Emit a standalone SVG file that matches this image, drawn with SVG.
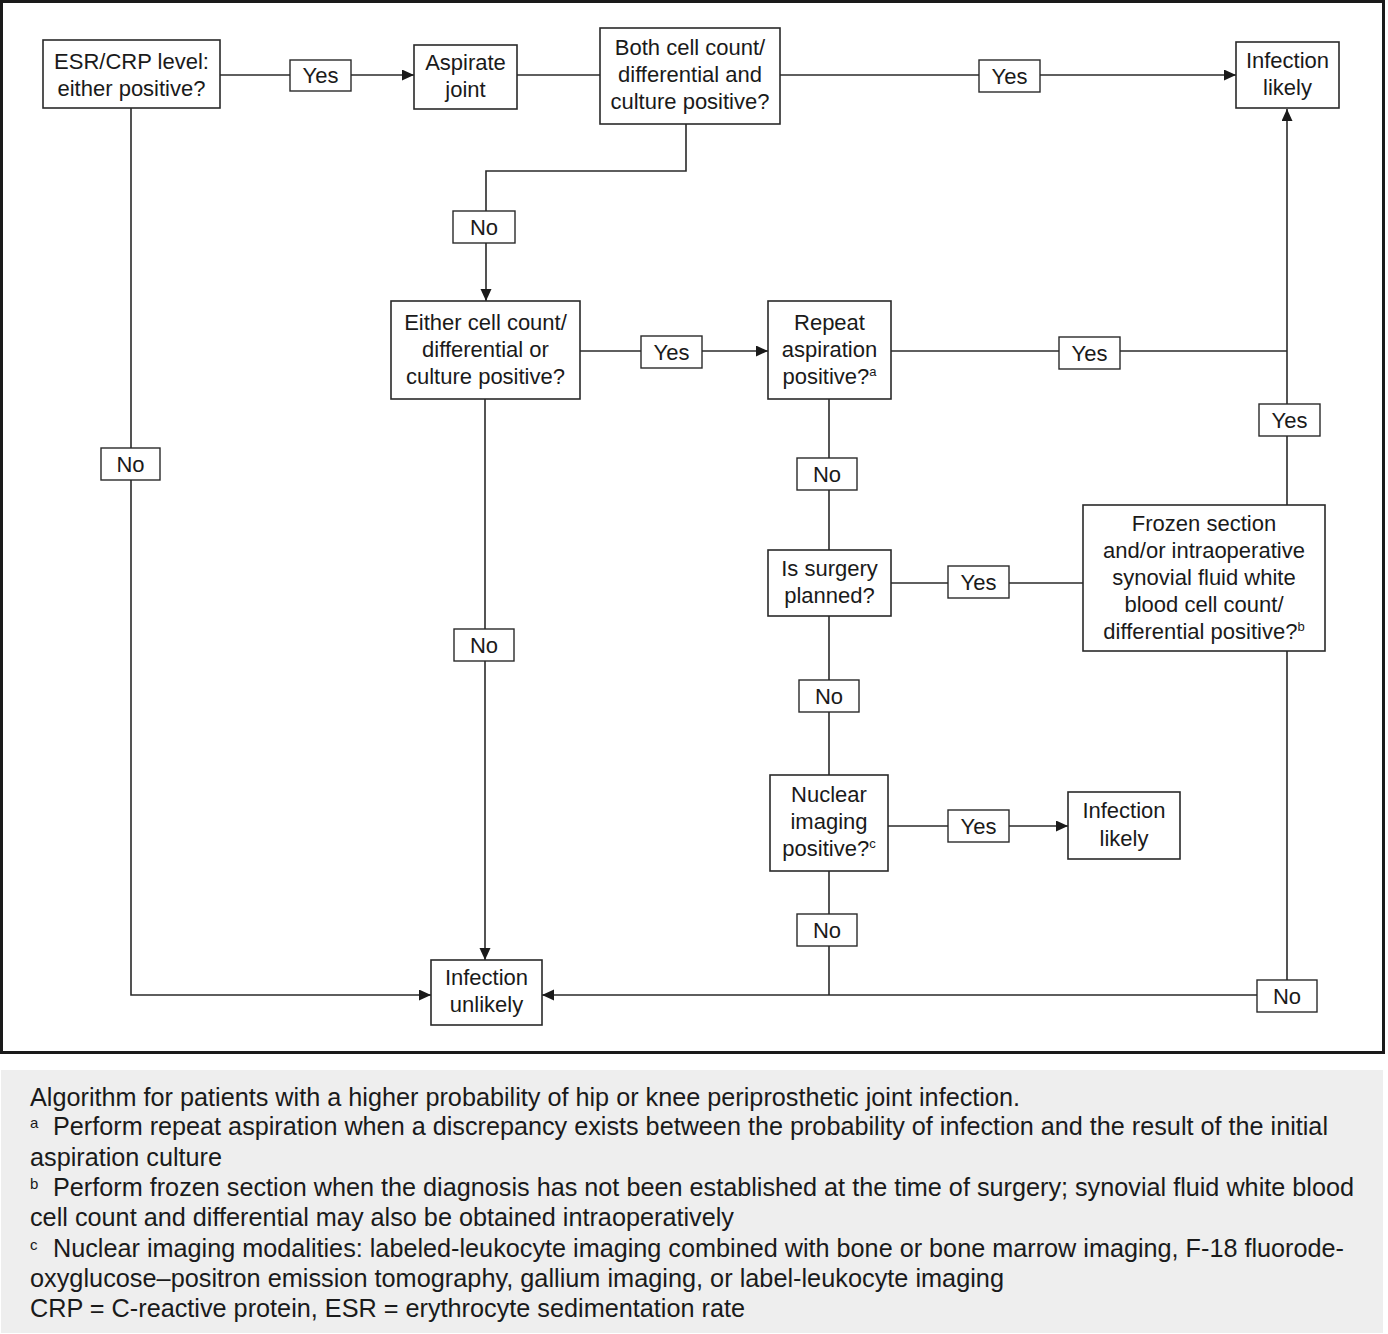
<svg xmlns="http://www.w3.org/2000/svg" width="1388" height="1334" viewBox="0 0 1388 1334">
<defs>
<marker id="arr" markerUnits="userSpaceOnUse" markerWidth="13" markerHeight="12" refX="12" refY="5.5" orient="auto">
<path d="M0,0 L12,5.5 L0,11 z" fill="#1a1a1a"/>
</marker>
<style>
.box{fill:#fff;stroke:#2a2a2a;stroke-width:1.6}
.lbl{fill:#fff;stroke:#2a2a2a;stroke-width:1.4}
.t{font-family:"Liberation Sans",Arial,sans-serif;font-size:22px;fill:#1a1a1a;text-anchor:middle}
.c{font-family:"Liberation Sans",Arial,sans-serif;font-size:25px;fill:#1a1a1a}
.sup{font-size:13px}
.csup{font-family:"Liberation Sans",Arial,sans-serif;font-size:15px;fill:#1a1a1a}
.ln{fill:none;stroke:#2a2a2a;stroke-width:1.6}
</style>
</defs>
<rect x="0" y="0" width="1388" height="1334" fill="#fff"/>
<rect x="1.5" y="1.5" width="1382" height="1051" fill="#fff" stroke="#1a1a1a" stroke-width="3"/>

<g id="connectors">
<path class="ln" d="M220,75 H414" marker-end="url(#arr)"/>
<path class="ln" d="M517,75 H600"/>
<path class="ln" d="M780,75 H1236" marker-end="url(#arr)"/>
<path class="ln" d="M686,124 V171 H486 V301" marker-end="url(#arr)"/>
<path class="ln" d="M580,351 H768" marker-end="url(#arr)"/>
<path class="ln" d="M891,351 H1287"/>
<path class="ln" d="M1287,505 V109" marker-end="url(#arr)"/>
<path class="ln" d="M829,399 V550"/>
<path class="ln" d="M891,583 H1083"/>
<path class="ln" d="M829,616 V775"/>
<path class="ln" d="M888,826 H1068" marker-end="url(#arr)"/>
<path class="ln" d="M829,871 V995"/>
<path class="ln" d="M1287,651 V995 H542" marker-end="url(#arr)"/>
<path class="ln" d="M485,399 V960" marker-end="url(#arr)"/>
<path class="ln" d="M131,108 V995 H431" marker-end="url(#arr)"/>
</g>

<g id="labels">
<g id="l1"><rect class="lbl" x="290" y="60" width="61" height="31"/><text class="t" x="320.5" y="83">Yes</text></g>
<g id="l2"><rect class="lbl" x="979" y="60" width="61" height="32"/><text class="t" x="1009.5" y="84">Yes</text></g>
<g id="l3"><rect class="lbl" x="453" y="211" width="62" height="32"/><text class="t" x="484" y="235">No</text></g>
<g id="l4"><rect class="lbl" x="641" y="336" width="61" height="32"/><text class="t" x="671.5" y="360">Yes</text></g>
<g id="l5"><rect class="lbl" x="1059" y="337" width="61" height="32"/><text class="t" x="1089.5" y="361">Yes</text></g>
<g id="l6"><rect class="lbl" x="1259" y="404" width="61" height="32"/><text class="t" x="1289.5" y="428">Yes</text></g>
<g id="l7"><rect class="lbl" x="101" y="448" width="59" height="32"/><text class="t" x="130.5" y="472">No</text></g>
<g id="l8"><rect class="lbl" x="797" y="458" width="60" height="32"/><text class="t" x="827" y="482">No</text></g>
<g id="l9"><rect class="lbl" x="948" y="566" width="61" height="32"/><text class="t" x="978.5" y="590">Yes</text></g>
<g id="l10"><rect class="lbl" x="454" y="629" width="60" height="32"/><text class="t" x="484" y="653">No</text></g>
<g id="l11"><rect class="lbl" x="799" y="680" width="60" height="32"/><text class="t" x="829" y="704">No</text></g>
<g id="l12"><rect class="lbl" x="948" y="810" width="61" height="32"/><text class="t" x="978.5" y="834">Yes</text></g>
<g id="l13"><rect class="lbl" x="797" y="914" width="60" height="32"/><text class="t" x="827" y="938">No</text></g>
<g id="l14"><rect class="lbl" x="1257" y="980" width="60" height="32"/><text class="t" x="1287" y="1004">No</text></g>
</g>

<g id="esr"><rect class="box" x="43" y="40" width="177" height="68"/>
<text class="t" x="131.5" y="69">ESR/CRP level:</text><text class="t" x="131.5" y="96">either positive?</text></g>

<g id="aspirate"><rect class="box" x="414" y="45" width="103" height="64"/>
<text class="t" x="465.5" y="70">Aspirate</text><text class="t" x="465.5" y="97">joint</text></g>

<g id="both"><rect class="box" x="600" y="28" width="180" height="96"/>
<text class="t" x="690" y="55">Both cell count/</text><text class="t" x="690" y="82">differential and</text><text class="t" x="690" y="109">culture positive?</text></g>

<g id="likely1"><rect class="box" x="1236" y="42" width="103" height="66"/>
<text class="t" x="1287.5" y="68">Infection</text><text class="t" x="1287.5" y="95">likely</text></g>

<g id="either"><rect class="box" x="391" y="301" width="189" height="98"/>
<text class="t" x="485.5" y="330">Either cell count/</text><text class="t" x="485.5" y="357">differential or</text><text class="t" x="485.5" y="384">culture positive?</text></g>

<g id="repeat"><rect class="box" x="768" y="301" width="123" height="98"/>
<text class="t" x="829.5" y="330">Repeat</text><text class="t" x="829.5" y="357">aspiration</text><text class="t" x="829.5" y="384">positive?<tspan class="sup" dy="-8">a</tspan></text></g>

<g id="frozen"><rect class="box" x="1083" y="505" width="242" height="146"/>
<text class="t" x="1204" y="531">Frozen section</text><text class="t" x="1204" y="558">and/or intraoperative</text><text class="t" x="1204" y="585">synovial fluid white</text><text class="t" x="1204" y="612">blood cell count/</text><text class="t" x="1204" y="639">differential positive?<tspan class="sup" dy="-8">b</tspan></text></g>

<g id="surgery"><rect class="box" x="768" y="550" width="123" height="66"/>
<text class="t" x="829.5" y="576">Is surgery</text><text class="t" x="829.5" y="603">planned?</text></g>

<g id="nuclear"><rect class="box" x="770" y="775" width="118" height="96"/>
<text class="t" x="829" y="802">Nuclear</text><text class="t" x="829" y="829">imaging</text><text class="t" x="829" y="856">positive?<tspan class="sup" dy="-8">c</tspan></text></g>

<g id="likely2"><rect class="box" x="1068" y="792" width="112" height="67"/>
<text class="t" x="1124" y="818">Infection</text><text class="t" x="1124" y="846">likely</text></g>

<g id="unlikely"><rect class="box" x="431" y="960" width="111" height="65"/>
<text class="t" x="486.5" y="985">Infection</text><text class="t" x="486.5" y="1012">unlikely</text></g>

<g id="caption">
<rect x="1" y="1070" width="1382" height="263" fill="#eeeeee"/>
<text class="c" x="30" y="1106" textLength="990" lengthAdjust="spacingAndGlyphs">Algorithm for patients with a higher probability of hip or knee periprosthetic joint infection.</text>
<text class="csup" x="30" y="1128">a</text>
<text class="c" x="53" y="1135" textLength="1275" lengthAdjust="spacingAndGlyphs">Perform repeat aspiration when a discrepancy exists between the probability of infection and the result of the initial</text>
<text class="c" x="30" y="1166" textLength="192" lengthAdjust="spacingAndGlyphs">aspiration culture</text>
<text class="csup" x="30" y="1189">b</text>
<text class="c" x="53" y="1196" textLength="1301" lengthAdjust="spacingAndGlyphs">Perform frozen section when the diagnosis has not been established at the time of surgery; synovial fluid white blood</text>
<text class="c" x="30" y="1226" textLength="704" lengthAdjust="spacingAndGlyphs">cell count and differential may also be obtained intraoperatively</text>
<text class="csup" x="30" y="1250">c</text>
<text class="c" x="53" y="1257" textLength="1291" lengthAdjust="spacingAndGlyphs">Nuclear imaging modalities: labeled-leukocyte imaging combined with bone or bone marrow imaging, F-18 fluorode-</text>
<text class="c" x="30" y="1287" textLength="974" lengthAdjust="spacingAndGlyphs">oxyglucose–positron emission tomography, gallium imaging, or label-leukocyte imaging</text>
<text class="c" x="30" y="1317" textLength="715" lengthAdjust="spacingAndGlyphs">CRP = C-reactive protein, ESR = erythrocyte sedimentation rate</text>
</g>
</svg>
